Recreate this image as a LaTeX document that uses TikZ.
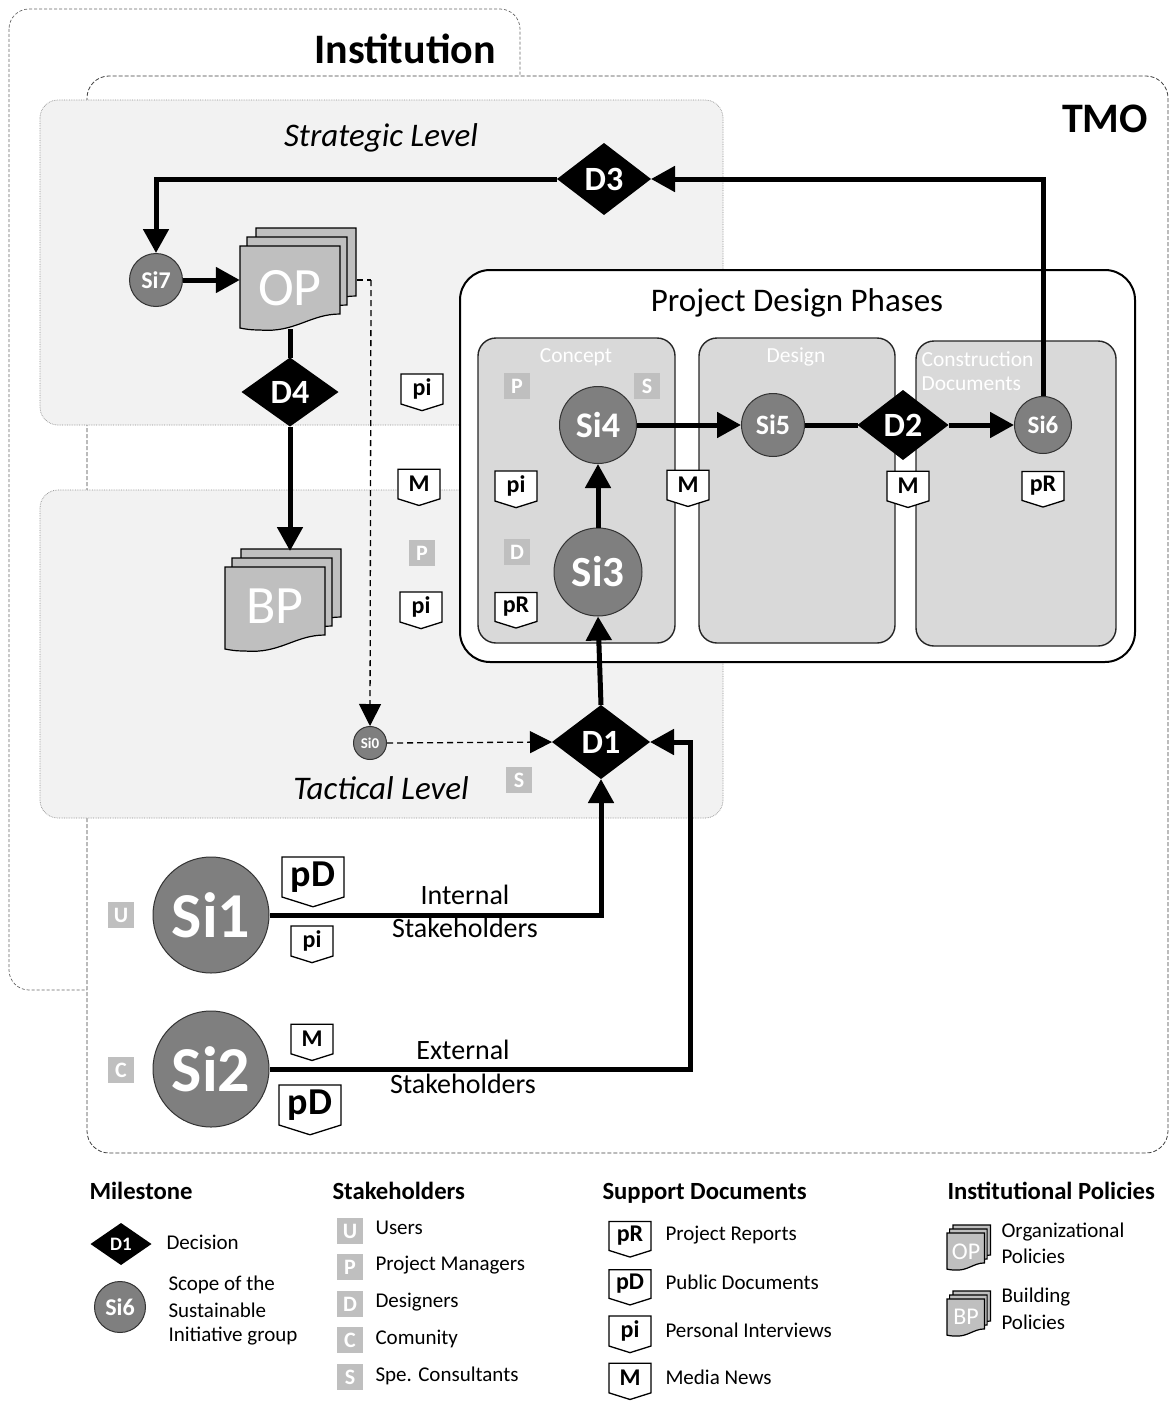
\documentclass[tikz,border=0pt]{standalone}
\usepackage{fontspec}
\setmainfont{Carlito}
\usetikzlibrary{arrows.meta,shapes.geometric,shapes.symbols}
\newcommand{\fsz}[1]{\fontsize{#1}{#1}\selectfont}
\definecolor{sigray}{HTML}{7F7F7F}
\definecolor{docgray}{HTML}{BFBFBF}
\definecolor{levelgray}{HTML}{F2F2F2}
\definecolor{phasegray}{HTML}{D9D9D9}
\tikzset{
  sinode/.style={circle, draw=black!80, line width=1pt, fill=sigray, text=white, inner sep=0pt, minimum size=#1},
  dnode/.style={diamond, fill=black, text=white, inner sep=0pt, outer sep=0pt, font=\fsz{34}\bfseries},
  tagnode/.style={signal, signal to=south, signal from=nowhere, signal pointer angle=145, draw=black, line width=1.3pt, fill=white, inner sep=0pt, font=\fsz{24}\bfseries, minimum width=42pt, minimum height=33pt},
  bigtagnode/.style={tagnode, minimum width=62pt, minimum height=47pt, font=\fsz{38}\bfseries},
  squarenode/.style={fill=docgray, text=white, inner sep=0pt, minimum size=26pt, font=\fsz{22}\bfseries},
  phasebox/.style={draw=black!85, line width=1.4pt, fill=phasegray, rounded corners=18pt},
  levelbox/.style={draw=black!45, densely dotted, line width=0.7pt, fill=levelgray, rounded corners=18pt},
  flowline/.style={line width=5pt},
  flowarrow/.style={line width=5pt, -{Triangle[length=24pt,width=25pt]}},
  dashflow/.style={line width=1.3pt, dash pattern=on 6pt off 4pt, -{Triangle[length=22pt,width=22pt]}},
  phasetext/.style={text=white, font=\fsz{21.5}},
  bodytext/.style={font=\fsz{28}},
  legendtext/.style={anchor=west, font=\fsz{21}},
  legendhead/.style={anchor=west, font=\fsz{24.7}\bfseries},
  docsheet/.pic={
    \foreach \dx/\dy in {16/-18, 7/-9, 0/0}
      \draw[fill=docgray, line width=1.2pt, shift={(\dx,\dy)}] (0,0) -- (100,0) -- (100,68)
        .. controls (70,68) and (55,87) .. (20,84) .. controls (10,84) and (5,83) .. (0,82) -- cycle;
  }
}
\begin{document}
\begin{tikzpicture}[x=1pt, y=-1pt]
\useasboundingbox (0,0) rectangle (1169,1405);
% Nested areas
\draw[draw=black!60, line width=0.7pt, densely dashed, fill=white, rounded corners=20pt] (9,9) rectangle (520,990);
\draw[draw=black!75, line width=0.8pt, dash pattern=on 4pt off 2pt, fill=white, rounded corners=22pt] (87,76) rectangle (1168,1153);
\draw[levelbox] (40,100) rectangle (723,425);
\draw[levelbox] (40,490) rectangle (723,818);
\node[font=\fsz{42}\bfseries] (institution) at (405,49) {Institution};
\node[font=\fsz{42}\bfseries] (tmo) at (1105,119) {TMO};
\node[font=\fsz{33}\itshape] (strategic) at (381,138) {Strategic Level};
\node[font=\fsz{33}\itshape] (tactical) at (381,788) {Tactical Level};
% Phases
\draw[draw=black, line width=2pt, fill=white, rounded corners=30pt] (460,270) rectangle (1135,662);
\node[font=\fsz{33}] (phases) at (797,303) {Project Design Phases};
\draw[phasebox] (478,338) rectangle (675,643);
\draw[phasebox] (699,338) rectangle (895,643);
\draw[phasebox] (916,341) rectangle (1116,646);
\node[phasetext] (concept) at (576,357) {Concept};
\node[phasetext] (design) at (796,357) {Design};
\node[phasetext, anchor=west] (construction) at (918,359) {Construction};
\node[phasetext, anchor=west] (documents) at (918,384) {Documents};
% Stacks of policies
\pic at (240,246) {docsheet};
\pic at (225,567) {docsheet};
\node[minimum width=100pt, minimum height=82pt, inner sep=0pt, text=white, font=\fsz{54}] (op) at (290,288) {OP};
\node[minimum width=100pt, minimum height=82pt, inner sep=0pt, text=white, font=\fsz{54}] (bp) at (275,606) {BP};
\coordinate (opout) at (357,280);
\coordinate (opturn) at (371,280);
\coordinate (bptop) at (290,551);
\coordinate (extturn) at (690,742);
% Milestones
\node[sinode=116pt, font=\fsz{64}\bfseries] (si1) at (211,915) {Si1};
\node[sinode=116pt, font=\fsz{64}\bfseries] (si2) at (211,1069) {Si2};
\node[sinode=88pt, font=\fsz{43}\bfseries] (si3) at (598,572) {Si3};
\node[sinode=77pt, font=\fsz{36}\bfseries] (si4) at (598,425) {Si4};
\node[sinode=63pt, font=\fsz{28}\bfseries] (si5) at (773,425) {Si5};
\node[sinode=57pt, font=\fsz{25}\bfseries] (si6) at (1043,425) {Si6};
\node[sinode=53pt, font=\fsz{24}\bfseries] (si7) at (156,280) {Si7};
\node[sinode=33pt, font=\fsz{15}\bfseries] (si0) at (370,743) {Si0};
\node[dnode, minimum width=98pt, minimum height=74pt] (d1) at (601,742) {D1};
\node[dnode, minimum width=91pt, minimum height=70pt] (d2) at (903,425) {D2};
\node[dnode, minimum width=94pt, minimum height=72pt] (d3) at (604,179) {D3};
\node[dnode, minimum width=97pt, minimum height=69pt] (d4) at (290,392) {D4};
% Flow
\draw[flowarrow] (d3.west) -| (si7.north);
\draw[flowarrow] (si7.east) -- (si7.east -| op.west);
\draw[flowline] (op.south) -- (d4.north);
\draw[flowarrow] (d4.south) -- (bptop);
\draw[flowarrow] (si6.north) |- (d3.east);
\draw[flowarrow] (d1.north) -- (si3.south);
\draw[flowarrow] (si3.north) -- (si4.south);
\draw[flowarrow] (si4.east) -- (si5.west);
\draw[flowline] (si5.east) -- (d2.west);
\draw[flowarrow] (d2.east) -- (si6.west);
\draw[flowarrow] (si1.east) -| (d1.south);
\draw[flowarrow] (si2.east) -| (extturn) -- (d1.east);
\draw[dashflow, -] (opout) -- (opturn);
\draw[dashflow] (opturn) -- (si0.north);
\draw[dashflow] (si0.east) -- (d1.west);
\node[bodytext] (internal) at (465,895) {Internal};
\node[bodytext] (internalb) at (465,928) {Stakeholders};
\node[bodytext] (external) at (463,1050) {External};
\node[bodytext] (externalb) at (463,1084) {Stakeholders};
% Documents
\node[tagnode] (pi1) at (422,389) {pi};
\node[tagnode] (m1) at (419,484) {M};
\node[tagnode] (pi2) at (421,607) {pi};
\node[tagnode] (pi3) at (516,486) {pi};
\node[tagnode] (pr1) at (516,607) {pR};
\node[tagnode] (m2) at (688,485) {M};
\node[tagnode] (m3) at (908,486) {M};
\node[tagnode] (pr2) at (1043,486) {pR};
\node[bigtagnode] (pd1) at (313,877) {pD};
\node[tagnode] (pi4) at (312,941) {pi};
\node[tagnode] (m4) at (312,1039) {M};
\node[bigtagnode] (pd2) at (310,1105) {pD};
% People
\node[squarenode] (p1) at (422,553) {P};
\node[squarenode] (d5) at (517,552) {D};
\node[squarenode] (p2) at (517,386) {P};
\node[squarenode] (s1) at (647,386) {S};
\node[squarenode] (s2) at (519,780) {S};
\node[squarenode] (u1) at (121,915) {U};
\node[squarenode] (c1) at (121,1070) {C};
% Legend
\node[legendhead] (leg1) at (86,1191) {Milestone};
\node[dnode, minimum width=61pt, minimum height=42pt, font=\fsz{19}\bfseries] (legd) at (121,1244) {D1};
\node[legendtext] (legdt) at (163,1242) {Decision};
\node[sinode=51pt, font=\fsz{24}\bfseries] (legsi) at (120,1307) {Si6};
\node[legendtext] at (165,1285) {Scope of the};
\node[legendtext] at (165,1310) {Sustainable};
\node[legendtext] at (165,1336) {Initiative group};
\node[legendhead] (leg2) at (329,1191) {Stakeholders};
\node[squarenode] (legu) at (350,1231) {U};
\node[squarenode] (legp) at (350,1267) {P};
\node[squarenode] (legdd) at (350,1304) {D};
\node[squarenode] (legc) at (350,1340) {C};
\node[squarenode] (legs) at (350,1377) {S};
\node[legendtext] at (372,1228) {Users};
\node[legendtext] at (372,1265) {Project Managers};
\node[legendtext] at (372,1302) {Designers};
\node[legendtext] at (372,1339) {Comunity};
\node[legendtext] at (372,1376) {Spe. Consultants};
\node[legendhead] (leg3) at (599,1193) {Support Documents};
\node[tagnode] (legpr) at (630,1236) {pR};
\node[tagnode] (legpd) at (630,1284) {pD};
\node[tagnode] (legpi) at (630,1331) {pi};
\node[tagnode] (legm) at (630,1378) {M};
\node[legendtext] at (662,1235) {Project Reports};
\node[legendtext] at (662,1282) {Public Documents};
\node[legendtext] at (662,1330) {Personal Interviews};
\node[legendtext] at (662,1377) {Media News};
\node[legendhead] (leg4) at (944,1191) {Institutional Policies};
\pic[xscale=.375, yscale=.44] at (947,1233) {docsheet};
\pic[xscale=.375, yscale=.44] at (947,1299) {docsheet};
\node[text=white, font=\fsz{24}] (legop) at (966,1252) {OP};
\node[text=white, font=\fsz{24}] (legbp) at (966,1317) {BP};
\node[legendtext] at (998,1232) {Organizational};
\node[legendtext] at (998,1256) {Policies};
\node[legendtext] at (998,1297) {Building};
\node[legendtext] at (998,1322) {Policies};
\end{tikzpicture}
\end{document}
